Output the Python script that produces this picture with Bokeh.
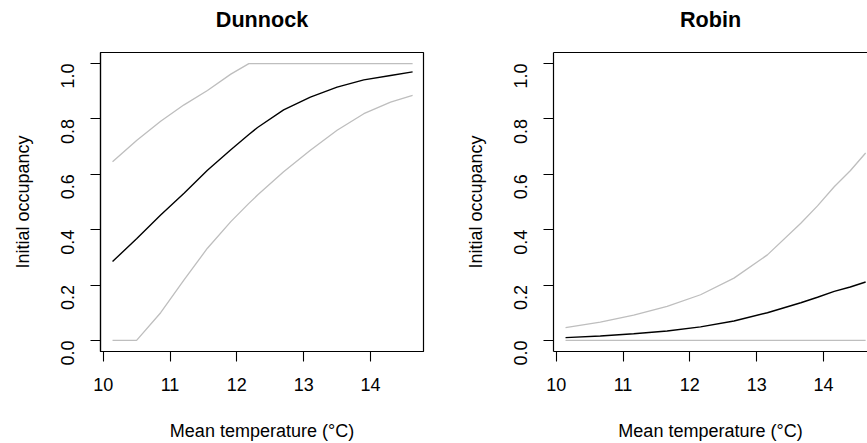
import math
from bokeh.plotting import figure
from bokeh.models import Range1d, FixedTicker, NumeralTickFormatter, LinearAxis
from bokeh.layouts import row
from bokeh.embed import file_html
from bokeh.resources import INLINE

# ---------------- data ----------------
titles = ["Dunnock", "Robin"]
x_label = "Mean temperature (°C)"
y_label = "Initial occupancy"
x_ticks = [10, 11, 12, 13, 14]
y_ticks = [0.0, 0.2, 0.4, 0.6, 0.8, 1.0]

dunnock_temp = [10.14, 10.50, 10.86, 11.21, 11.56, 11.91, 12.18, 12.31, 12.70, 13.10, 13.50, 13.90, 14.30, 14.63]
dunnock_mean = [0.285, 0.367, 0.453, 0.532, 0.615, 0.689, 0.744, 0.769, 0.833, 0.879, 0.915, 0.941, 0.957, 0.970]
dunnock_lower = [0.000, 0.000, 0.100, 0.219, 0.333, 0.429, 0.495, 0.525, 0.609, 0.687, 0.759, 0.819, 0.861, 0.885]
dunnock_upper = [0.645, 0.722, 0.792, 0.851, 0.903, 0.962, 1.000, 1.000, 1.000, 1.000, 1.000, 1.000, 1.000, 1.000]

robin_temp = [10.14, 10.66, 11.16, 11.66, 12.16, 12.66, 13.16, 13.66, 13.91, 14.16, 14.40, 14.63]
robin_mean = [0.010, 0.016, 0.024, 0.034, 0.049, 0.070, 0.100, 0.136, 0.156, 0.177, 0.193, 0.211]
robin_lower = [0.000, 0.000, 0.000, 0.000, 0.000, 0.000, 0.000, 0.000, 0.000, 0.000, 0.000, 0.000]
robin_upper = [0.046, 0.066, 0.091, 0.123, 0.165, 0.225, 0.309, 0.423, 0.486, 0.555, 0.613, 0.677]

FONT = "Liberation Sans"
GRAY = "#BEBEBE"
X_START = 9.96
Y_START, Y_END = -0.04, 1.04


def make_panel(title, temp, mean, lower, upper, width, border_left, border_right,
               x_end, full_box):
    p = figure(width=width, height=443,
               x_range=Range1d(X_START, x_end), y_range=Range1d(Y_START, Y_END),
               output_backend="svg", toolbar_location=None,
               min_border_left=border_left, min_border_right=border_right,
               min_border_top=52, min_border_bottom=91)
    p.grid.visible = False
    p.background_fill_color = "white"
    p.border_fill_color = "white"

    xa = p.below[0]
    ya = p.left[0]
    for ax in (xa, ya):
        ax.axis_line_color = "black"
        ax.axis_line_width = 1.2
        ax.major_tick_line_color = "black"
        ax.major_tick_line_width = 1.1
        ax.major_tick_out = 10
        ax.major_tick_in = 0
        ax.minor_tick_out = 0
        ax.minor_tick_in = 0
        ax.major_label_text_font = FONT
        ax.major_label_text_font_size = "18px"
        ax.major_label_text_color = "black"
        ax.axis_label_text_font = FONT
        ax.axis_label_text_font_size = "18px"
        ax.axis_label_text_font_style = "normal"
        ax.axis_label_text_color = "black"

    xa.ticker = FixedTicker(ticks=x_ticks)
    xa.major_label_standoff = 16
    xa.axis_label = x_label
    xa.axis_label_standoff = 27

    ya.ticker = FixedTicker(ticks=y_ticks)
    ya.formatter = NumeralTickFormatter(format="0.0")
    ya.major_label_orientation = math.pi / 2
    ya.major_label_standoff = 23
    ya.axis_label = y_label
    ya.axis_label_standoff = 19

    # top axis carries the panel title (and the box's top edge on the right panel)
    top = LinearAxis(ticker=FixedTicker(ticks=[]),
                     axis_line_color=None if full_box else "black",
                     axis_line_width=1.2, major_tick_out=0, major_tick_in=0,
                     minor_tick_out=0, minor_tick_in=0, major_label_standoff=0)
    top.major_label_text_font_size = "0px"
    top.axis_label = title
    top.axis_label_text_font = FONT
    top.axis_label_text_font_size = "21.6px"
    top.axis_label_text_font_style = "bold"
    top.axis_label_text_color = "black"
    top.axis_label_standoff = 21
    p.add_layout(top, "above")

    if full_box:
        p.outline_line_color = "black"
        p.outline_line_width = 1.2
        p.outline_line_alpha = 1.0
    else:
        p.outline_line_color = None

    p.line(temp, upper, line_color=GRAY, line_width=1.3)
    p.line(temp, lower, line_color=GRAY, line_width=1.3)
    p.line(temp, mean, line_color="black", line_width=1.4)
    return p


p1 = make_panel(titles[0], dunnock_temp, dunnock_mean, dunnock_lower, dunnock_upper,
                width=433, border_left=100, border_right=10, x_end=14.793,
                full_box=True)
p2 = make_panel(titles[1], robin_temp, robin_mean, robin_lower, robin_upper,
                width=434, border_left=120, border_right=0, x_end=14.658,
                full_box=False)

layout = row(p1, p2)
open("out.html", "w").write(file_html(layout, INLINE))
